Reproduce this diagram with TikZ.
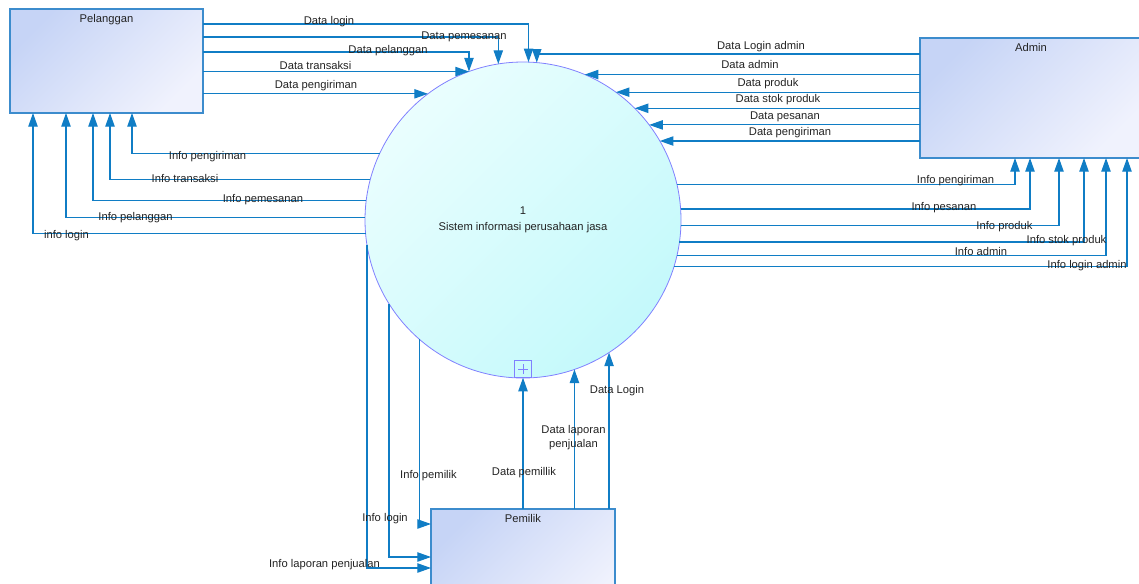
\documentclass[tikz,border=0pt]{standalone}
\usepackage{fontspec}
\setmainfont{Liberation Sans}
\usetikzlibrary{arrows.meta}

\definecolor{flowc}{RGB}{16,125,197}
\definecolor{boxline}{RGB}{60,140,205}
\definecolor{boxA}{RGB}{198,212,246}
\definecolor{boxB}{RGB}{240,242,253}
\definecolor{procline}{RGB}{128,128,255}
\definecolor{procA}{RGB}{234,254,254}
\definecolor{procB}{RGB}{196,249,251}
\definecolor{txt}{RGB}{35,35,35}

\tikzset{
  entity/.style={rectangle, draw=boxline, line width=0.8pt, top color=boxA,
    bottom color=boxB, shading angle=45, inner sep=0pt, outer sep=0pt},
  process/.style={circle, draw=procline, line width=0.6pt, top color=procA,
    bottom color=procB, shading angle=45, minimum size=237pt, inner sep=0pt,
    outer sep=0pt, align=center, font=\fontsize{8.4}{12}\selectfont, text=txt},
  flow/.style={draw=flowc, line width=0.85pt,
    -{Triangle[length=10.2pt,width=7pt]}},
  lbl/.style={font=\fontsize{8.4}{10}\selectfont, text=txt, inner sep=0pt,
    text height=6.1pt, text depth=1.8pt},
  lbltwo/.style={font=\fontsize{8.4}{10}\selectfont, text=txt, inner sep=0pt,
    align=center},
  title/.style={label={[lbl, anchor=north, yshift=-3.6pt]north:#1}},
}

\begin{document}
\begin{tikzpicture}[x=0.75pt,y=-0.75pt]
\useasboundingbox (0,0) rectangle (1139,583);
\clip (0,0) rectangle (1139,583);

% external entities and the process
\node[entity, title=Pelanggan, minimum width=144.75pt, minimum height=78pt]
  (pel) at (106.5,61) {};
\node[entity, title=Admin, minimum width=166.5pt, minimum height=90pt]
  (adm) at (1031,98) {};
\node[entity, title=Pemilik, minimum width=138pt, minimum height=82.5pt]
  (pem) at (523,564) {};
\node[process] (c) at (523,220) {1\\Sistem informasi perusahaan jasa};
\node[rectangle, draw=procline, line width=0.6pt, minimum size=12.5pt,
  inner sep=0pt,
  path picture={\draw[procline, line width=0.6pt]
    ([xshift=-3.6pt]path picture bounding box.center) -- ++(7.2pt,0)
    ([yshift=-3.6pt]path picture bounding box.center) -- ++(0,7.2pt);}]
  (plus) at (523,369) {};

% Pelanggan -> process
\draw[flow] (pel.east |- 0,24) -| (c.88.91);
\draw[flow] (pel.east |- 0,37) -| (c.99.84);
\draw[flow] (pel.east |- 0,52) -| (c.110.37);
\draw[flow] (pel.east |- c.110.49) -- (c.110.49);
\draw[flow] (pel.east |- c.127.71) -- (c.127.71);

% process -> Pelanggan
\draw[flow] (c.155.71) -| (pel.south -| 132,0);
\draw[flow] (c.165.34) -| (pel.south -| 110,0);
\draw[flow] (c.173.09) -| (pel.south -| 93,0);
\draw[flow] (c.179.64) -| (pel.south -| 66,0);
\draw[flow] (c.185.81) -| (pel.south -| 33,0);

% Admin -> process
\draw[flow] (adm.west |- 0,54) -| (c.85.28);
\draw[flow] (adm.west |- c.67.52) -- (c.67.52);
\draw[flow] (adm.west |- c.54.11) -- (c.54.11);
\draw[flow] (adm.west |- c.45.66) -- (c.45.66);
\draw[flow] (adm.west |- c.37.42) -- (c.37.42);
\draw[flow] (adm.west |- c.30) -- (c.30);

% process -> Admin
\draw[flow] (c.13.54) -| (adm.south -| 1015,0);
\draw[flow] (c.4.72) -| (adm.south -| 1030,0);
\draw[flow] (c.358.91) -| (adm.south -| 1059,0);
\draw[flow] (c.352.36) -| (adm.south -| 1084,0);
\draw[flow] (c.347.94) -| (adm.south -| 1106,0);
\draw[flow] (c.343.83) -| (adm.south -| 1127,0);

% Pemilik -> process
\draw[flow] (pem.north) -- (plus.south);
\draw[flow] (pem.north -| c.289.21) -- (c.289.21);
\draw[flow] (pem.north -| c.303.85) -- (c.303.85);

% process -> Pemilik
\draw[flow] (c.229.32) |- (pem.west |- 0,524);
\draw[flow] (c.212.69) |- (pem.west |- 0,557);
\draw[flow] (c.189.13) |- (pem.west |- 0,568);

% flow labels, Pelanggan side
\node[lbl] (lDataLogin) at (329,22) {Data login};
\node[lbl] (lDataPemesanan) at (464,37) {Data pemesanan};
\node[lbl] (lDataPelanggan) at (388,51) {Data pelanggan};
\node[lbl] (lDataTransaksi) at (315.5,67) {Data transaksi};
\node[lbl] (lDataPengirimanP) at (316,86) {Data pengiriman};
\node[lbl] (lInfoPengirimanP) at (207.5,157) {Info pengiriman};
\node[lbl] (lInfoTransaksi) at (185,180) {Info transaksi};
\node[lbl] (lInfoPemesanan) at (263,199.5) {Info pemesanan};
\node[lbl] (lInfoPelanggan) at (135.5,217.5) {Info pelanggan};
\node[lbl] (lInfoLoginP) at (66.5,236) {info login};

% flow labels, Admin side
\node[lbl] (lDataLoginAdmin) at (761,47) {Data Login admin};
\node[lbl] (lDataAdmin) at (750,66) {Data admin};
\node[lbl] (lDataProduk) at (768,84) {Data produk};
\node[lbl] (lDataStok) at (778,100) {Data stok produk};
\node[lbl] (lDataPesanan) at (785,116.5) {Data pesanan};
\node[lbl] (lDataPengirimanA) at (790,132.5) {Data pengiriman};
\node[lbl] (lInfoPengirimanA) at (955.5,180.5) {Info pengiriman};
\node[lbl] (lInfoPesanan) at (944,207.5) {Info pesanan};
\node[lbl] (lInfoProduk) at (1004.5,227) {Info produk};
\node[lbl] (lInfoStok) at (1066.5,240.5) {Info stok produk};
\node[lbl] (lInfoAdmin) at (981,252.5) {Info admin};
\node[lbl] (lInfoLoginAdmin) at (1087,265.5) {Info login admin};

% flow labels, Pemilik side
\node[lbl] (lDataPemilik) at (524,473) {Data pemillik};
\node[lbltwo] (lDataLaporan) at (573.5,437.5) {Data laporan\\penjualan};
\node[lbl] (lDataLoginPem) at (617,391) {Data Login};
\node[lbl] (lInfoPemilik) at (428.5,476) {Info pemilik};
\node[lbl] (lInfoLoginPem) at (385,519) {Info login};
\node[lbl] (lInfoLaporan) at (324.5,565) {Info laporan penjualan};
\end{tikzpicture}
\end{document}
